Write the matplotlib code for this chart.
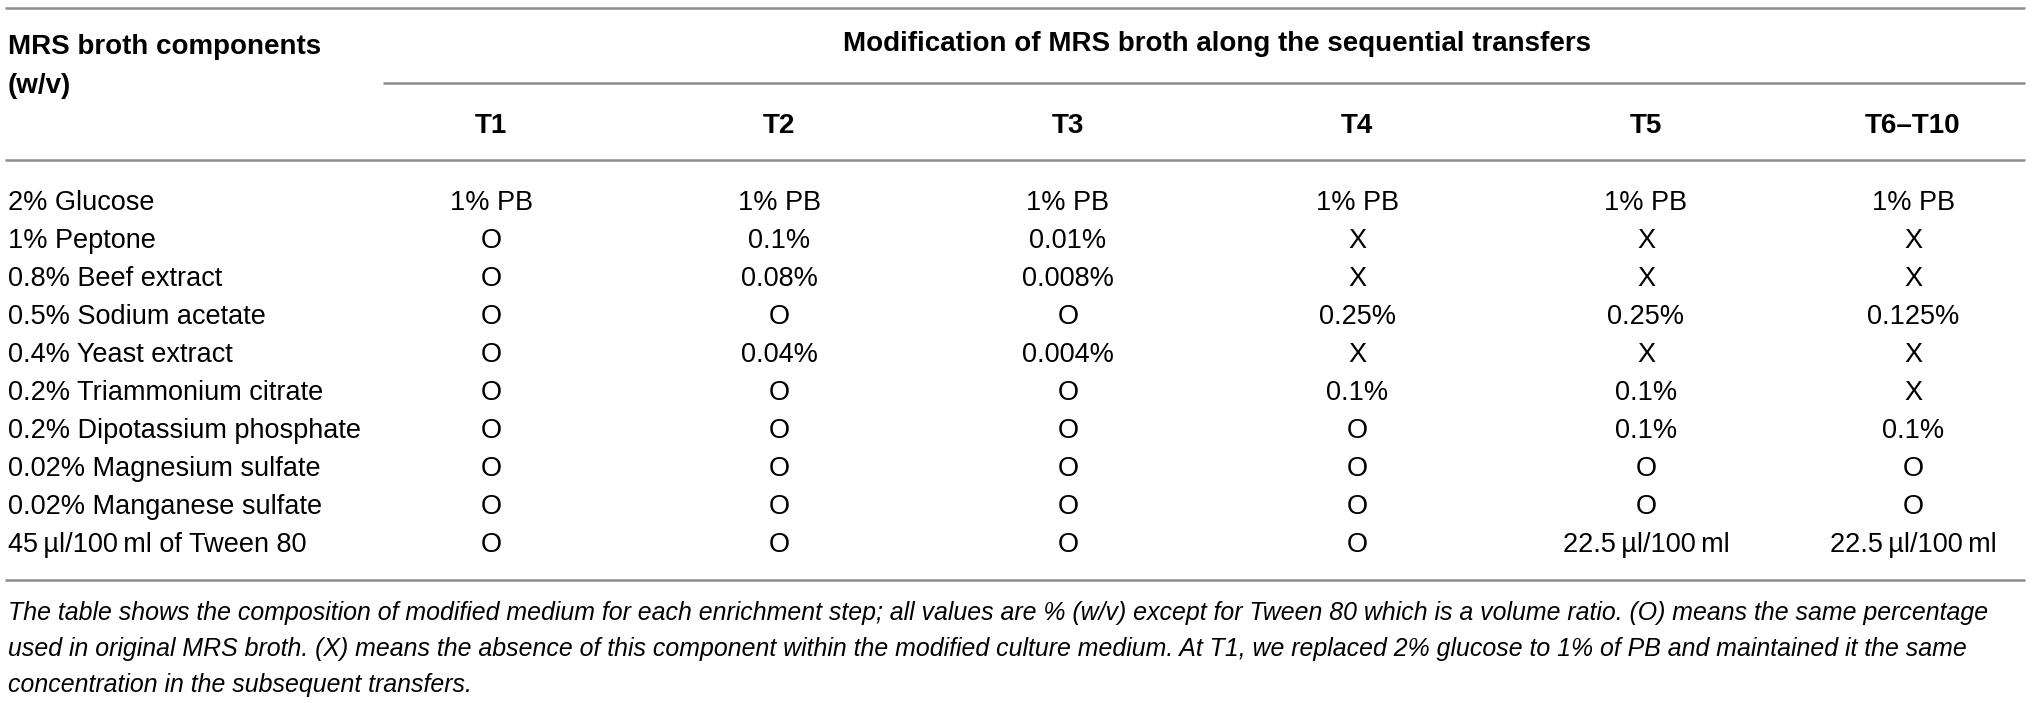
import matplotlib
matplotlib.use('Agg')
import matplotlib.pyplot as plt

plt.rcParams['font.family'] = ['Liberation Sans', 'DejaVu Sans']

components = ['2% Glucose', '1% Peptone', '0.8% Beef extract', '0.5% Sodium acetate',
              '0.4% Yeast extract', '0.2% Triammonium citrate', '0.2% Dipotassium phosphate',
              '0.02% Magnesium sulfate', '0.02% Manganese sulfate',
              '45\u2009\u00b5l/100\u2009ml of Tween 80']
transfers = ['T1', 'T2', 'T3', 'T4', 'T5', 'T6\u2013T10']
t1 = ['1% PB', 'O', 'O', 'O', 'O', 'O', 'O', 'O', 'O', 'O']
t2 = ['1% PB', '0.1%', '0.08%', 'O', '0.04%', 'O', 'O', 'O', 'O', 'O']
t3 = ['1% PB', '0.01%', '0.008%', 'O', '0.004%', 'O', 'O', 'O', 'O', 'O']
t4 = ['1% PB', 'X', 'X', '0.25%', 'X', '0.1%', 'O', 'O', 'O', 'O']
t5 = ['1% PB', 'X', 'X', '0.25%', 'X', '0.1%', '0.1%', 'O', 'O', '22.5\u2009\u00b5l/100\u2009ml']
t6 = ['1% PB', 'X', 'X', '0.125%', 'X', 'X', '0.1%', 'O', 'O', '22.5\u2009\u00b5l/100\u2009ml']
columns = [t1, t2, t3, t4, t5, t6]

header_left = ['MRS broth components', '(w/v)']
header_span = 'Modification of MRS broth along the sequential transfers'
footnote = ['The table shows the composition of modified medium for each enrichment step; all values are % (w/v) except for Tween 80 which is a volume ratio. (O) means the same percentage',
            'used in original MRS broth. (X) means the absence of this component within the modified culture medium. At T1, we replaced 2% glucose to 1% of PB and maintained it the same',
            'concentration in the subsequent transfers.']

W, H = 2032, 703
fig = plt.figure(figsize=(W / 100, H / 100), dpi=100)
ax = fig.add_axes([0, 0, 1, 1])
ax.set_xlim(0, W)
ax.set_ylim(H, 0)
ax.axis('off')

line_kw = dict(color='#8c8c8c', lw=1.8)
fs = 19.5
fs_bold = 20
col_x = [491, 779, 1068, 1357, 1646, 1913]
row_y0, row_dy = 210, 38
x0 = 8

# rules
ax.hlines(8, 5, 2025, **line_kw)
ax.hlines(83, 383, 2025, **line_kw)
ax.hlines(160, 5, 2025, **line_kw)
ax.hlines(580, 5, 2025, **line_kw)

# header
ax.text(x0, 54, header_left[0], fontsize=fs_bold, fontweight='bold', va='baseline')
ax.text(x0, 93, header_left[1], fontsize=fs_bold, fontweight='bold', va='baseline')
ax.text(1217, 51, header_span, fontsize=fs_bold, fontweight='bold',
        ha='center', va='baseline')
for x, t in zip(col_x, transfers):
    ax.text(x, 133, t, fontsize=fs_bold, fontweight='bold', ha='center', va='baseline')

# body
for i, comp in enumerate(components):
    y = row_y0 + i * row_dy
    ax.text(x0, y, comp, fontsize=fs, va='baseline')
    for x, col in zip(col_x, columns):
        ax.text(x, y, col[i], fontsize=fs, ha='center', va='baseline')

# footnote
for j, line in enumerate(footnote):
    ax.text(x0, 620 + j * 36, line, fontsize=17.9, style='italic', va='baseline')

fig.savefig('out.png', dpi=100)
